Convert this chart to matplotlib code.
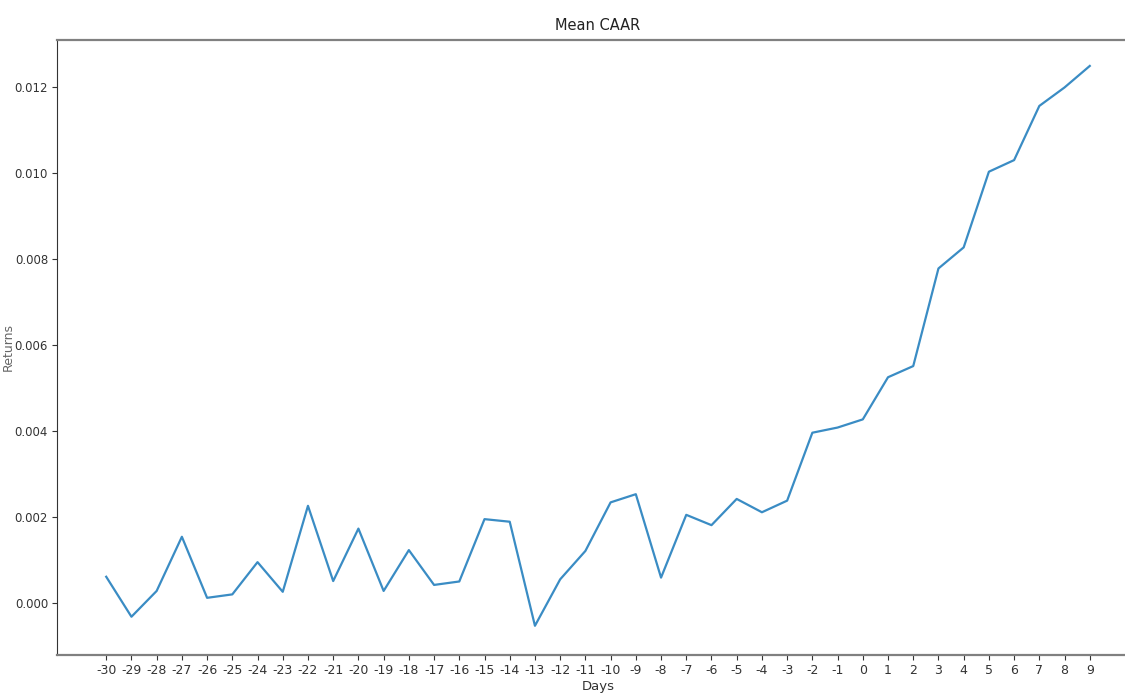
import matplotlib
matplotlib.use("Agg")
import matplotlib.pyplot as plt

# event window days and mean cumulative abnormal returns
days = list(range(-30, 10))
caar = [0.00061, -0.00032, 0.00028, 0.00154, 0.00012, 0.00020, 0.00095, 0.00026,
        0.00226, 0.00051, 0.00173, 0.00028, 0.00123, 0.00042, 0.00050, 0.00195,
        0.00189, -0.00053, 0.00055, 0.00121, 0.00234, 0.00253, 0.00059, 0.00205,
        0.00181, 0.00242, 0.00211, 0.00238, 0.00396, 0.00408, 0.00427, 0.00525,
        0.00551, 0.00778, 0.00827, 0.01003, 0.01030, 0.01156, 0.01199, 0.01249]
y_ticks = [0.000, 0.002, 0.004, 0.006, 0.008, 0.010, 0.012]

plt.rcParams["font.family"] = ["DejaVu Sans"]
plt.rcParams["axes.unicode_minus"] = False

fig = plt.figure(figsize=(11.25, 6.97), dpi=100)
# axes run a little past the right edge of the canvas
ax = fig.add_axes([0.0507, 0.0603, 0.9617, 0.8823])

ax.plot(days, caar, color="#3a8cc4", linewidth=1.6)

ax.set_xticks(days)
ax.set_yticks(y_ticks)
ax.set_ylim(-0.001209, 0.013093)
ax.tick_params(axis="x", labelsize=9, colors="#333333", pad=3)
ax.tick_params(axis="y", labelsize=8.5, colors="#333333", pad=3)
ax.set_title("Mean CAAR", fontsize=10.5, color="#222222", pad=7)
ax.set_xlabel("Days", fontsize=9.5, color="#333333", labelpad=2)
ax.set_ylabel("Returns", fontsize=9, color="#666666")
ax.yaxis.set_label_coords(-0.039, 0.5)

for side in ["top", "bottom", "right"]:
    ax.spines[side].set_color("#808080")
    ax.spines[side].set_linewidth(1.6)
ax.spines["left"].set_color("#333333")

fig.savefig("out.png", dpi=100)
